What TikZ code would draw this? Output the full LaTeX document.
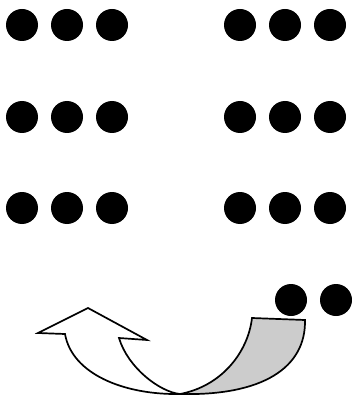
\documentclass[tikz,border=0pt]{standalone}
\usepackage{tikz}

\begin{document}
\begin{tikzpicture}[
  x=1pt,
  y=-1pt,
  dot/.style={fill=black},
  outline/.style={draw=black, line width=1.7pt, line join=miter},
  back/.style={outline, fill=gray!40},
  front/.style={outline, fill=white}
]
\useasboundingbox (0,0) rectangle (352,395);

% three rows of dots, two groups each
\foreach \y in {25,117,208} {
  \foreach \x in {22,67,112,240,285,330} {
    \fill[dot] (\x,\y) circle (16);
  }
}

% two dots above the curved arrow
\foreach \x in {291,336} {
  \fill[dot] (\x,300) circle (16);
}

% shaded back of the curved arrow
\path[back] (252,318) -- (305,320)
  .. controls (306,368) and (262,396) .. (180,394)
  .. controls (222,386) and (248,352) .. cycle;

% white front of the curved arrow with its head
\path[front] (119,338) -- (147,340) -- (88,308) -- (38,333) -- (65,334)
  .. controls (72,374) and (124,395) .. (180,394)
  .. controls (160,392) and (128,368) .. cycle;

\end{tikzpicture}
\end{document}
